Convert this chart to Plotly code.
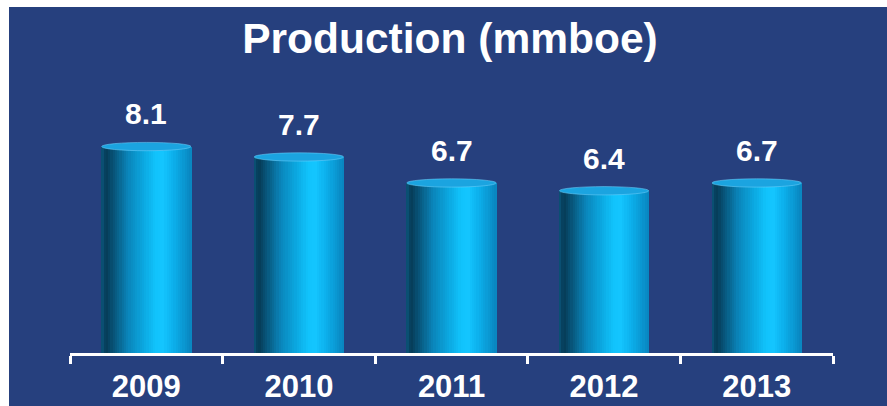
import plotly.graph_objects as go

# ---- data ----
years = ["2009", "2010", "2011", "2012", "2013"]
production = [8.1, 7.7, 6.7, 6.4, 6.7]
value_labels = ["8.1", "7.7", "6.7", "6.4", "6.7"]
title_text = "Production (mmboe)"

# ---- style ----
BG = "#26407e"
FONT = "Liberation Sans, Arial, sans-serif"
W, H = 887, 406
ML, MR, MT, MB = 70, 54, 80, 53
PX_PER_UNIT = 26.0
plot_h = H - MT - MB
plot_w = W - ML - MR
y_max = plot_h / PX_PER_UNIT

BAR_W = 0.59
N_SLICES = 40
grad_stops = [
    (0.00, (11, 86, 124)),
    (0.05, (6, 58, 85)),
    (0.15, (8, 88, 126)),
    (0.30, (10, 134, 187)),
    (0.45, (11, 164, 220)),
    (0.60, (16, 194, 251)),
    (0.68, (20, 198, 255)),
    (0.80, (12, 176, 236)),
    (0.92, (10, 150, 208)),
    (1.00, (9, 132, 190)),
]


def grad_color(t):
    for (p0, c0), (p1, c1) in zip(grad_stops[:-1], grad_stops[1:]):
        if p0 <= t <= p1:
            f = (t - p0) / (p1 - p0) if p1 > p0 else 0
            c = [round(a + (b - a) * f) for a, b in zip(c0, c1)]
            return f"rgb({c[0]},{c[1]},{c[2]})"
    c = grad_stops[-1][1]
    return f"rgb({c[0]},{c[1]},{c[2]})"


CAP_H = 0.32  # data units, height of the top ellipse
body_tops = [v - CAP_H / 2 for v in production]

fig = go.Figure()
slice_w = BAR_W / N_SLICES
for k in range(N_SLICES):
    t = (k + 0.5) / N_SLICES
    fig.add_trace(go.Bar(
        x=years,
        y=body_tops,
        width=slice_w * 1.15,
        offset=-BAR_W / 2 + k * slice_w,
        marker=dict(color=grad_color(t), line=dict(width=0)),
        showlegend=False,
        hoverinfo="skip",
    ))

# blue panel: from x=9, y=7 to the right/bottom edges
shapes = [
    dict(type="rect", xref="paper", yref="paper",
         x0=(9 - ML) / plot_w, x1=(W - ML) / plot_w + 0.01,
         y0=-(MB + 2) / plot_h, y1=(H - MB - 7) / plot_h,
         fillcolor=BG, line=dict(width=0), layer="below"),
]
for i, v in enumerate(production):
    shapes.append(dict(
        type="circle", xref="x", yref="y",
        x0=i - BAR_W / 2 + 0.002, x1=i + BAR_W / 2 - 0.002,
        y0=v - CAP_H, y1=v,
        fillcolor="#1ba4e0",
        line=dict(color="rgba(110,205,250,0.55)", width=1),
        layer="above",
    ))

annotations = []
for i, (v, lab) in enumerate(zip(production, value_labels)):
    annotations.append(dict(
        x=i, y=v, xref="x", yref="y", text=f"<b>{lab}</b>",
        showarrow=False, yanchor="bottom", yshift=10,
        font=dict(family=FONT, size=30, color="white"),
    ))

fig.update_layout(
    width=W, height=H,
    margin=dict(l=ML, r=MR, t=MT, b=MB, pad=0, autoexpand=False),
    paper_bgcolor="white",
    plot_bgcolor=BG,
    barmode="overlay",
    bargap=0,
    shapes=shapes,
    annotations=annotations,
    title=dict(
        text=f"<b>{title_text}</b>",
        font=dict(family=FONT, size=42.5, color="white"),
        xref="container", yref="container",
        x=450 / W, xanchor="center",
        y=1 - 38 / H, yanchor="middle",
    ),
    xaxis=dict(
        type="category",
        automargin=False,
        tickson="boundaries",
        ticks="outside", ticklen=8, tickwidth=3, tickcolor="white",
        showline=True, linecolor="white", linewidth=3,
        showgrid=False, zeroline=False,
        tickfont=dict(family=FONT, size=31, color="white"),
        tickprefix="<b>", ticksuffix="</b>",
        ticklabelstandoff=4,
        range=[-0.5, len(years) - 0.5],
        fixedrange=True,
    ),
    yaxis=dict(
        visible=False, automargin=False, range=[0, y_max],
        showgrid=False, zeroline=False, fixedrange=True,
    ),
    showlegend=False,
)

fig.write_html(
    "out.html",
    config={"displayModeBar": False, "staticPlot": True},
    post_script="document.body.style.margin='0';document.body.style.overflow='hidden';",
)
